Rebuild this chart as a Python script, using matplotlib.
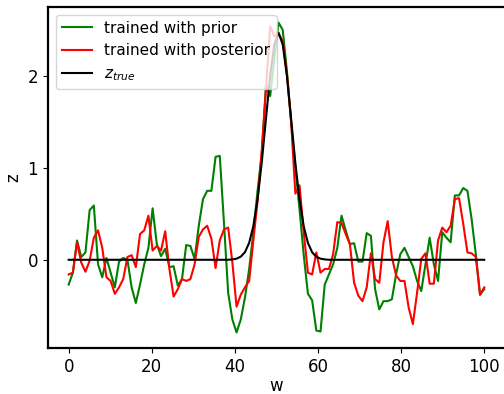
import numpy as np
import matplotlib
matplotlib.use("Agg")
import matplotlib.pyplot as plt

# -------------------------
# Data
# -------------------------
w = np.linspace(0, 100, 100)

z_prior = [
    -0.27, -0.14, 0.21, 0.03, 0.08, 0.54, 0.59, -0.05, -0.19, 0.02,
    -0.14, -0.30, -0.02, 0.02, 0.00, -0.30, -0.47, -0.27, -0.05, 0.13,
    0.56, 0.17, 0.04, 0.12, -0.08, -0.07, -0.28, -0.21, 0.16, 0.15,
    0.01, 0.37, 0.66, 0.75, 0.75, 1.12, 1.13, 0.40, -0.36, -0.65,
    -0.79, -0.65, -0.41, -0.10, 0.30, 0.75, 1.15, 1.90, 1.78, 2.18,
    2.58, 2.50, 2.05, 1.50, 1.00, 0.55, 0.05, -0.37, -0.44, -0.77,
    -0.78, -0.27, -0.16, -0.05, 0.13, 0.48, 0.32, 0.17, 0.18, -0.02,
    -0.02, 0.29, 0.26, -0.32, -0.54, -0.45, -0.45, -0.43, -0.16, 0.06,
    0.13, 0.03, -0.07, -0.23, -0.34, -0.05, 0.24, -0.05, -0.23, 0.30,
    0.24, 0.19, 0.70, 0.70, 0.78, 0.75, 0.44, 0.06, -0.38, -0.32,
]

z_posterior = [
    -0.16, -0.14, 0.19, -0.03, -0.13, -0.01, 0.24, 0.32, 0.13, -0.19,
    -0.23, -0.37, -0.30, -0.21, 0.03, 0.05, -0.08, 0.28, 0.32, 0.48,
    0.10, 0.15, 0.10, 0.31, -0.10, -0.40, -0.32, -0.21, -0.23, -0.21,
    -0.05, 0.25, 0.33, 0.37, 0.23, -0.09, 0.21, 0.33, 0.35, -0.03,
    -0.51, -0.38, -0.30, -0.23, 0.21, 0.64, 1.19, 1.85, 2.54, 2.43,
    2.46, 2.38, 2.02, 1.50, 0.72, 0.81, 0.30, -0.14, -0.16, 0.08,
    -0.14, -0.10, -0.10, 0.06, 0.41, 0.40, 0.28, 0.17, -0.25, -0.39,
    -0.45, -0.30, 0.07, -0.21, -0.25, 0.19, 0.42, 0.03, -0.17, -0.23,
    -0.23, -0.52, -0.70, -0.36, 0.01, 0.07, -0.26, -0.26, 0.21, 0.35,
    0.30, 0.37, 0.66, 0.67, 0.39, 0.08, 0.07, 0.03, -0.38, -0.30,
]

z_true = [0.0] * 39 + [
    0.004, 0.012, 0.034, 0.083, 0.184, 0.367, 0.657, 1.059, 1.534, 2.000,
    2.344, 2.470, 2.341, 1.996, 1.529, 1.054, 0.653, 0.364, 0.183, 0.082,
    0.033, 0.012, 0.004,
] + [0.0] * 38

# -------------------------
# Plot
# -------------------------
fig = plt.figure(figsize=(5.04, 3.94), dpi=100)
ax = fig.add_axes([0.095, 0.117, 0.907, 0.865])

ax.plot(w, z_prior, color="green", label="trained with prior")
ax.plot(w, z_posterior, color="red", label="trained with posterior")
ax.plot(w, z_true, color="black", label=r"$z_{true}$")

ax.set_xlabel("w", fontsize=12, labelpad=1)
ax.set_ylabel("z", fontsize=12)
ax.set_xticks([0, 20, 40, 60, 80, 100])
ax.set_yticks([0, 1, 2])
ax.tick_params(labelsize=12)
for s in ax.spines.values():
    s.set_linewidth(1.6)

ax.legend(loc="upper left", fontsize=11)

fig.savefig("out.png", dpi=100)
